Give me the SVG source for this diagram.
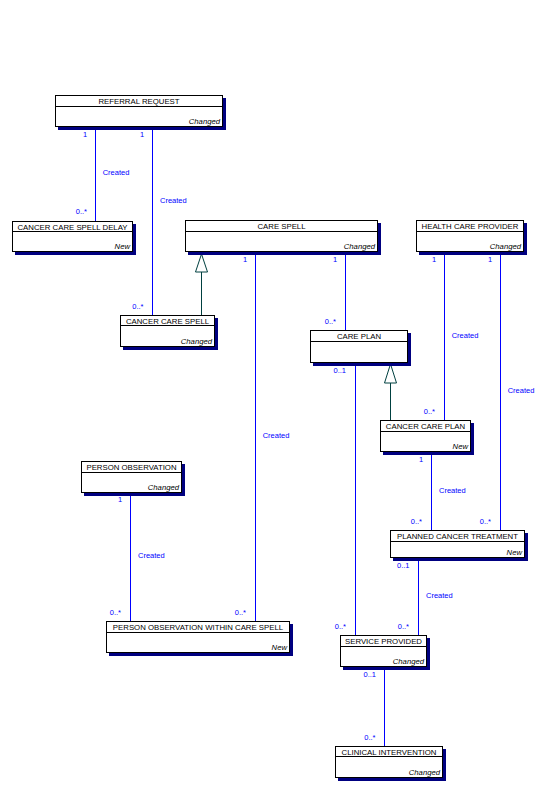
<svg xmlns="http://www.w3.org/2000/svg" width="550" height="790" viewBox="0 0 550 790">
<style>
.shadow{fill:#000080;stroke:none}
.box{fill:#ffffff;stroke:#000000;stroke-width:1}
.div{stroke:#000000;stroke-width:1}
.title{font-family:"Liberation Sans",Arial,sans-serif;font-size:7.8px;fill:#000000;text-anchor:middle}
.sub{font-family:"Liberation Sans",Arial,sans-serif;font-size:7.7px;font-style:italic;fill:#000000;text-anchor:end}
.assoc{stroke:#0000ff;stroke-width:1;fill:none}
.gen{stroke:#004040;stroke-width:1;fill:none}
.genhead{stroke:#004040;stroke-width:1;fill:#ffffff}
.lbl{font-family:"Liberation Sans",Arial,sans-serif;font-size:7.5px;fill:#0000ff}
.m{font-family:"Liberation Sans",Arial,sans-serif;font-size:7.5px;fill:#0000ff;text-anchor:end}
.m1{font-family:"Liberation Sans",Arial,sans-serif;font-size:7.5px;fill:#0000ff;text-anchor:middle}
</style>
<rect width="550" height="790" fill="#ffffff"/>
<g id="connectors">
<line class="assoc" x1="95.5" y1="127" x2="95.5" y2="221"/>
<line class="assoc" x1="152.5" y1="127" x2="152.5" y2="315"/>
<line class="assoc" x1="255.5" y1="252" x2="255.5" y2="621"/>
<line class="assoc" x1="345.5" y1="252" x2="345.5" y2="330"/>
<line class="assoc" x1="444.5" y1="252" x2="444.5" y2="420"/>
<line class="assoc" x1="500.5" y1="252" x2="500.5" y2="530"/>
<line class="assoc" x1="431.5" y1="452" x2="431.5" y2="530"/>
<line class="assoc" x1="355.5" y1="363" x2="355.5" y2="635"/>
<line class="assoc" x1="418.5" y1="558" x2="418.5" y2="635"/>
<line class="assoc" x1="384.5" y1="667" x2="384.5" y2="746"/>
<line class="assoc" x1="130.5" y1="493" x2="130.5" y2="621"/>
<line class="gen" x1="201.5" y1="315" x2="201.5" y2="272"/>
<polygon class="genhead" points="201.5,254 195.5,272 207.5,272"/>
<line class="gen" x1="390.5" y1="420" x2="390.5" y2="383"/>
<polygon class="genhead" points="390.5,364 384.5,383 396.5,383"/>
<text class="m1" x="85" y="137">1</text>
<text class="m1" x="142" y="137">1</text>
<text class="m1" x="245" y="262">1</text>
<text class="m1" x="335" y="262">1</text>
<text class="m1" x="434" y="262">1</text>
<text class="m1" x="490" y="262">1</text>
<text class="m1" x="421" y="462">1</text>
<text class="m1" x="120" y="502">1</text>
<text class="m" x="346" y="373">0..1</text>
<text class="m" x="409.5" y="568">0..1</text>
<text class="m" x="376" y="677">0..1</text>
<text class="m" x="87" y="214">0..*</text>
<text class="m" x="143.5" y="308.5">0..*</text>
<text class="m" x="336" y="324">0..*</text>
<text class="m" x="435" y="413.5">0..*</text>
<text class="m" x="422" y="523.5">0..*</text>
<text class="m" x="491" y="523.5">0..*</text>
<text class="m" x="346" y="628.5">0..*</text>
<text class="m" x="409" y="628.5">0..*</text>
<text class="m" x="375.5" y="739.5">0..*</text>
<text class="m" x="121" y="614.5">0..*</text>
<text class="m" x="246" y="614.5">0..*</text>
<text class="lbl" x="102.7" y="175">Created</text>
<text class="lbl" x="160" y="203">Created</text>
<text class="lbl" x="262.7" y="438">Created</text>
<text class="lbl" x="451.7" y="338">Created</text>
<text class="lbl" x="507.7" y="393">Created</text>
<text class="lbl" x="439" y="493">Created</text>
<text class="lbl" x="426" y="598">Created</text>
<text class="lbl" x="138" y="558">Created</text>
</g>
<g id="referral-request">
<rect class="shadow" x="58" y="98" width="168" height="32"/>
<rect class="box" x="55.5" y="95.5" width="167" height="31"/>
<line class="div" x1="55.5" y1="106.5" x2="222.5" y2="106.5"/>
<text class="title" x="139" y="104.3">REFERRAL REQUEST</text>
<text class="sub" x="220" y="123.7">Changed</text>
</g>
<g id="cancer-care-spell-delay">
<rect class="shadow" x="15" y="224" width="121" height="31"/>
<rect class="box" x="12.5" y="221.5" width="120" height="30"/>
<line class="div" x1="12.5" y1="231.5" x2="132.5" y2="231.5"/>
<text class="title" x="72.5" y="230">CANCER CARE SPELL DELAY</text>
<text class="sub" x="130" y="248.5">New</text>
</g>
<g id="care-spell">
<rect class="shadow" x="188" y="223" width="193" height="32"/>
<rect class="box" x="185.5" y="220.5" width="192" height="31"/>
<line class="div" x1="185.5" y1="231.5" x2="377.5" y2="231.5"/>
<text class="title" x="281.5" y="229.3">CARE SPELL</text>
<text class="sub" x="375" y="248.7">Changed</text>
</g>
<g id="health-care-provider">
<rect class="shadow" x="419" y="223" width="108" height="32"/>
<rect class="box" x="416.5" y="220.5" width="107" height="31"/>
<line class="div" x1="416.5" y1="231.5" x2="523.5" y2="231.5"/>
<text class="title" x="470" y="229.3">HEALTH CARE PROVIDER</text>
<text class="sub" x="521" y="248.7">Changed</text>
</g>
<g id="cancer-care-spell">
<rect class="shadow" x="123" y="318" width="95" height="32"/>
<rect class="box" x="120.5" y="315.5" width="94" height="31"/>
<line class="div" x1="120.5" y1="325.5" x2="214.5" y2="325.5"/>
<text class="title" x="167.5" y="324.3">CANCER CARE SPELL</text>
<text class="sub" x="212" y="343.5">Changed</text>
</g>
<g id="care-plan">
<rect class="shadow" x="313" y="333" width="98" height="33"/>
<rect class="box" x="310.5" y="330.5" width="97" height="32"/>
<line class="div" x1="310.5" y1="341.5" x2="407.5" y2="341.5"/>
<text class="title" x="359" y="339.3">CARE PLAN</text>
</g>
<g id="cancer-care-plan">
<rect class="shadow" x="383" y="423" width="91" height="32"/>
<rect class="box" x="380.5" y="420.5" width="90" height="31"/>
<line class="div" x1="380.5" y1="431.5" x2="470.5" y2="431.5"/>
<text class="title" x="425.5" y="429.3">CANCER CARE PLAN</text>
<text class="sub" x="468" y="448.7">New</text>
</g>
<g id="person-observation">
<rect class="shadow" x="84" y="464" width="101" height="32"/>
<rect class="box" x="81.5" y="461.5" width="100" height="31"/>
<line class="div" x1="81.5" y1="472.5" x2="181.5" y2="472.5"/>
<text class="title" x="131.5" y="470.3">PERSON OBSERVATION</text>
<text class="sub" x="179" y="489.7">Changed</text>
</g>
<g id="planned-cancer-treatment">
<rect class="shadow" x="393" y="533" width="135" height="28"/>
<rect class="box" x="390.5" y="530.5" width="134" height="27"/>
<line class="div" x1="390.5" y1="541.5" x2="524.5" y2="541.5"/>
<text class="title" x="457.5" y="539.3">PLANNED CANCER TREATMENT</text>
<text class="sub" x="522" y="554.7">New</text>
</g>
<g id="person-observation-within-care-spell">
<rect class="shadow" x="109" y="624" width="184" height="32"/>
<rect class="box" x="106.5" y="621.5" width="183" height="31"/>
<line class="div" x1="106.5" y1="632.5" x2="289.5" y2="632.5"/>
<text class="title" x="198" y="630.3">PERSON OBSERVATION WITHIN CARE SPELL</text>
<text class="sub" x="287" y="649.7">New</text>
</g>
<g id="service-provided">
<rect class="shadow" x="343" y="638" width="87" height="32"/>
<rect class="box" x="340.5" y="635.5" width="86" height="31"/>
<line class="div" x1="340.5" y1="646.5" x2="426.5" y2="646.5"/>
<text class="title" x="383.5" y="644.3">SERVICE PROVIDED</text>
<text class="sub" x="424" y="663.7">Changed</text>
</g>
<g id="clinical-intervention">
<rect class="shadow" x="338" y="749" width="108" height="32"/>
<rect class="box" x="335.5" y="746.5" width="107" height="31"/>
<line class="div" x1="335.5" y1="756.5" x2="442.5" y2="756.5"/>
<text class="title" x="389" y="755.3">CLINICAL INTERVENTION</text>
<text class="sub" x="440" y="774.7">Changed</text>
</g>
</svg>
